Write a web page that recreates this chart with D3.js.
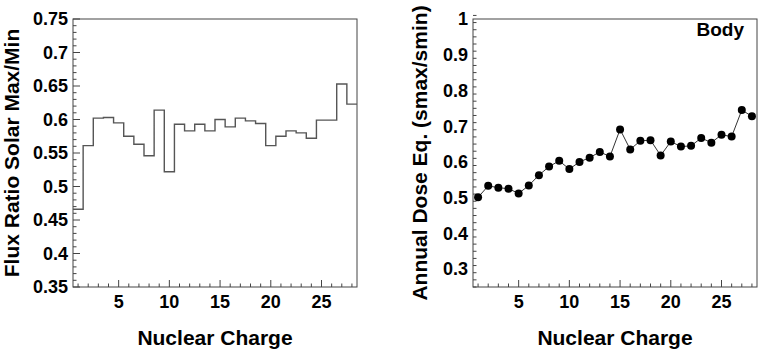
<!DOCTYPE html>
<html>
<head>
<meta charset="utf-8">
<script src="https://cdn.jsdelivr.net/npm/d3@7"></script>
<style>
  body { margin: 0; background: #fff; }
  text { font-family: "Liberation Sans", Arial, Helvetica, sans-serif; font-weight: bold; fill: #000; }
</style>
</head>
<body>
<svg id="chart" width="758" height="349"></svg>
<script>
const charge = [1, 2, 3, 4, 5, 6, 7, 8, 9, 10, 11, 12, 13, 14, 15, 16, 17, 18, 19, 20, 21, 22, 23, 24, 25, 26, 27, 28];

// left: flux ratio solar max / min (histogram)
const fluxRatio = [0.466, 0.561, 0.602, 0.603, 0.595, 0.575, 0.563, 0.546, 0.614, 0.522,
  0.593, 0.583, 0.593, 0.583, 0.600, 0.589, 0.602, 0.598, 0.594, 0.561,
  0.575, 0.583, 0.580, 0.572, 0.599, 0.599, 0.653, 0.623];

// right: annual dose equivalent ratio, body
const doseRatio = [0.501, 0.533, 0.528, 0.525, 0.512, 0.534, 0.563, 0.587, 0.603, 0.580,
  0.600, 0.612, 0.628, 0.615, 0.691, 0.635, 0.659, 0.661, 0.618, 0.657,
  0.643, 0.645, 0.667, 0.654, 0.676, 0.671, 0.745, 0.728];

const xTicks = [5, 10, 15, 20, 25];
const leftYTicks = [0.35, 0.4, 0.45, 0.5, 0.55, 0.6, 0.65, 0.7, 0.75];
const rightYTicks = [0.3, 0.4, 0.5, 0.6, 0.7, 0.8, 0.9, 1];

const svg = d3.select("#chart");
const plotTop = 19, plotBottom = 287;

function panel(left, right, yDomain, yTicks, yMinorStep, yTitle, titleX) {
  const x = d3.scaleLinear().domain([0.5, 28.5]).range([left, right]);
  const y = d3.scaleLinear().domain(yDomain).range([plotBottom, plotTop]);
  const g = svg.append("g");

  // frame
  g.append("rect")
    .attr("x", left).attr("y", plotTop)
    .attr("width", right - left).attr("height", plotBottom - plotTop)
    .attr("fill", "none").attr("stroke", "#444").attr("stroke-width", 1);

  // x ticks (inside, pointing up)
  g.selectAll("line.xtick")
    .data(charge)
    .join("line")
    .attr("class", "xtick")
    .attr("x1", d => x(d)).attr("x2", d => x(d))
    .attr("y1", plotBottom).attr("y2", d => plotBottom - (d % 5 === 0 ? 7 : 3.5))
    .attr("stroke", "#444");

  g.selectAll("text.xlab")
    .data(xTicks)
    .join("text")
    .attr("class", "xlab")
    .attr("x", d => x(d)).attr("y", 308)
    .attr("text-anchor", "middle")
    .style("font-size", "18px")
    .text(d => d);

  // y ticks (inside, pointing right)
  const n = Math.round((yDomain[1] - yDomain[0]) / yMinorStep);
  const minor = d3.range(n + 1).map(i => +(yDomain[0] + i * yMinorStep).toFixed(4));
  const isMajor = v => yTicks.some(t => Math.abs(t - v) < 1e-6);
  g.selectAll("line.ytick")
    .data(minor)
    .join("line")
    .attr("class", "ytick")
    .attr("x1", left).attr("x2", d => left + (isMajor(d) ? 7 : 3.5))
    .attr("y1", d => y(d)).attr("y2", d => y(d))
    .attr("stroke", "#444");

  g.selectAll("text.ylab")
    .data(yTicks)
    .join("text")
    .attr("class", "ylab")
    .attr("x", left - 5).attr("y", d => y(d))
    .attr("dy", "0.35em")
    .attr("text-anchor", "end")
    .style("font-size", "18px")
    .text(d => d3.format("")(d));

  // titles
  g.append("text")
    .attr("x", (left + right) / 2).attr("y", 345)
    .attr("text-anchor", "middle")
    .style("font-size", "21px")
    .text("Nuclear Charge");

  g.append("text")
    .attr("transform", `translate(${titleX},${(plotTop + plotBottom) / 2}) rotate(-90)`)
    .attr("text-anchor", "middle")
    .style("font-size", "21px")
    .text(yTitle);

  return { g, x, y };
}

// left panel
const L = panel(73, 357, [0.35, 0.75], leftYTicks, 0.01, "Flux Ratio Solar Max/Min", 18.5);
const stepPts = charge.map((z, i) => [z - 0.5, fluxRatio[i]]);
stepPts.push([28.5, fluxRatio[fluxRatio.length - 1]]);
L.g.append("path")
  .attr("d", d3.line().x(d => L.x(d[0])).y(d => L.y(d[1])).curve(d3.curveStepAfter)(stepPts))
  .attr("fill", "none")
  .attr("stroke", "#555")
  .attr("stroke-width", 1.4);

// right panel
const R = panel(473, 757, [0.25, 1], rightYTicks, 0.02, "Annual Dose Eq. (smax/smin)", 427);
const dosePts = charge.map((z, i) => [z, doseRatio[i]]);
R.g.append("path")
  .attr("d", d3.line().x(d => R.x(d[0])).y(d => R.y(d[1]))(dosePts))
  .attr("fill", "none")
  .attr("stroke", "#333")
  .attr("stroke-width", 1);
R.g.selectAll("circle")
  .data(dosePts)
  .join("circle")
  .attr("cx", d => R.x(d[0]))
  .attr("cy", d => R.y(d[1]))
  .attr("r", 4)
  .attr("fill", "#000");

R.g.append("text")
  .attr("x", 744).attr("y", 36)
  .attr("text-anchor", "end")
  .style("font-size", "19px")
  .text("Body");
</script>
</body>
</html>
